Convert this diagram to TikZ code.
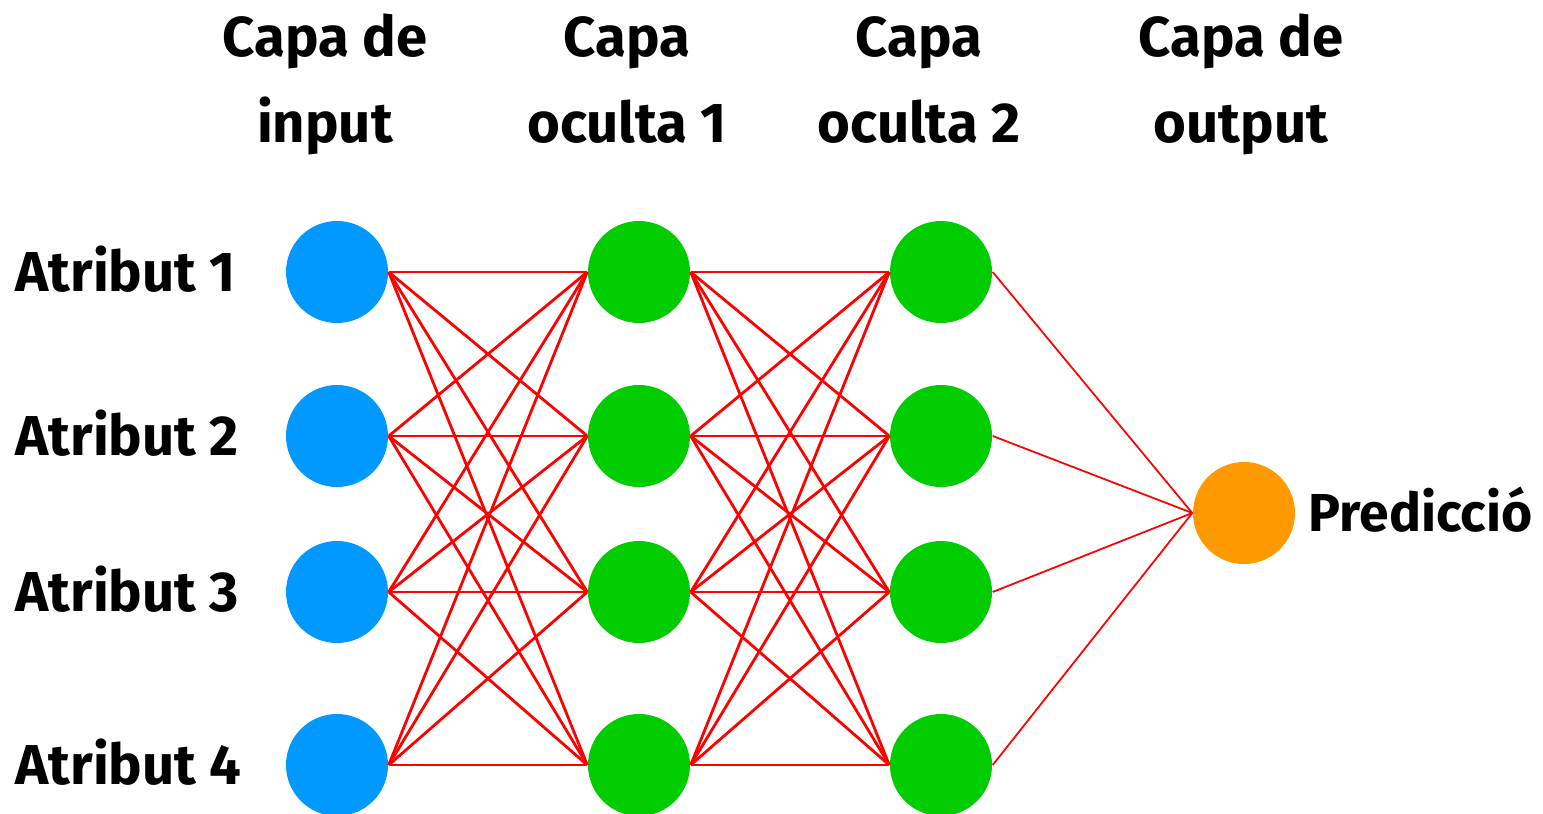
\documentclass[tikz,border=0pt]{standalone}
\usepackage{fontspec}
\setmainfont{Fira Sans}
\usetikzlibrary{positioning}

\definecolor{inblue}{RGB}{0,153,255}
\definecolor{hidgreen}{RGB}{0,204,0}
\definecolor{outorange}{RGB}{255,153,0}
\definecolor{wred}{RGB}{255,0,0}

\tikzset{
    neuron/.style={circle, minimum size=1.02cm, inner sep=0pt},
    layertitle/.style={align=center, inner sep=0pt, font=\bfseries\fontsize{16}{24.2}\selectfont},
    attr/.style={inner sep=0pt, font=\bfseries\fontsize{16}{19}\selectfont},
    weight/.style={draw=wred, line width=0.8pt},
}

\begin{document}
\begin{tikzpicture}
        \useasboundingbox (0,0) rectangle (15.43,8.13);

        % neurons and input labels
        \foreach \n/\y in {1/5.41,2/3.77,3/2.21,4/0.48} {
            \node[neuron, fill=inblue] (in\n) at (3.37,\y) {};
            \node[neuron, fill=hidgreen] (ha\n) at (6.39,\y) {};
            \node[neuron, fill=hidgreen] (hb\n) at (9.41,\y) {};
            \node[attr, anchor=base west] (atr\n) at (0.15,\y-0.19) {Atribut \n};
        }
        \node[neuron, fill=outorange] (out) at (12.44,3.00) {};
        \node[attr, anchor=base west, font=\bfseries\fontsize{15.2}{19}\selectfont] (pred) at (13.08,2.82) {Predicció};

        % layer titles (base = last line)
        \node[layertitle, anchor=base] (tin) at (3.25,6.71) {Capa de\\input};
        \node[layertitle, anchor=base] (tha) at (6.27,6.71) {Capa\\oculta 1};
        \node[layertitle, anchor=base] (thb) at (9.19,6.71) {Capa\\oculta 2};
        \node[layertitle, anchor=base] (tout) at (12.41,6.71) {Capa de\\output};

        % weights
        \foreach \i in {1,...,4}
            \foreach \j in {1,...,4} {
                \draw[weight] (in\i.east) -- (ha\j.west);
                \draw[weight] (ha\i.east) -- (hb\j.west);
            }
        \foreach \j in {1,...,4}
            \draw[weight, line width=0.5pt] (hb\j.east) -- (out.west);
\end{tikzpicture}
\end{document}
